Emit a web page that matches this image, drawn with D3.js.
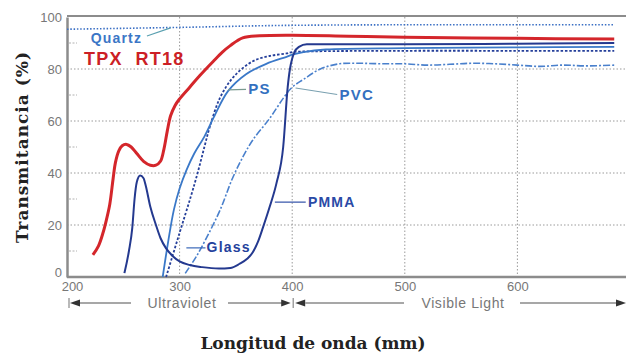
<!DOCTYPE html>
<html><head><meta charset="utf-8">
<script src="https://cdn.jsdelivr.net/npm/d3@7/dist/d3.min.js"></script>
<style>body{margin:0;background:#fff;}svg{display:block}</style>
</head><body>
<script>
// ---- data ----
const wavelengthTicks = [200, 300, 400, 500, 600];
const percentTicks = [0, 20, 40, 60, 80, 100];
const minorPercentTicks = [10, 30, 50, 70, 90];

const tpxNm = [223,228,232,235,238,241,243,246,249,253,257,262,268,274,279,283,286,289,292,296,300,309,318,330,338,345,356,371,400,450,500,600,686];
const tpxT  = [8.5,12,17,22,28,38,44,48.5,50.5,51,50,47.5,44.5,43,43,44.5,49,56,62,66,68.5,73,77.5,83,86.5,89,92,92.8,93,92.6,92.2,91.8,91.5];

const pmmaNm = [251,255,258,260,262,265,268,270,274,279,283,288,294,300,309,320,335,345,353,360,365,370,374,380,386,392,396,398,400,402,406,413,450,500,600,686];
const pmmaT  = [1.5,10,19,30,36.5,39,38,35,27,20,15,11,8,6,4.6,3.8,3.3,3.5,5,7,9.5,14,19,27,36,50,73,80,84,86.5,88.5,89.5,89.5,89.5,89.7,90];

const psNm = [285,290,295,300,306,313,322,331,343,359,377,395,400,410,430,500,600,686];
const psT  = [0,14,26,34,41,47.5,54,62,71.5,78,82,84.7,85.5,86.5,87.5,88,88.3,88.5];

const glassNm = [288,300,310,316,322,327,336,348,365,380,395,400,420,500,600,686];
const glassT  = [0,17,31,40,50,58,69,77,83,85,86,86.5,86.8,87,87,87];

const pvcNm = [305,315,325,336,347,356,365,380,392,400,410,425,442,460,480,500,520,540,560,580,600,620,640,660,686];
const pvcT  = [1.4,8,16,25.8,38,46,52.7,61,68.7,73,76,80,82,82.2,82,82,81.5,81.8,82.2,82,81.5,81,81.5,81.2,81.5];

const quartzNm = [200,300,400,500,600,686];
const quartzT  = [95.3,96,96.8,97,97,97];

// ---- layout ----
const W = 626, H = 354;
const svg = d3.select("body").append("svg").attr("width", W).attr("height", H);
const x = d3.scaleLinear().domain([200, 700]).range([67, 630]);
const y = d3.scaleLinear().domain([0, 100]).range([277, 17]);

// grid
const grid = svg.append("g");
grid.selectAll(".hg").data(percentTicks.filter(d => d > 0 && d < 100)).join("line")
  .attr("x1", x(200)).attr("x2", W).attr("y1", d => y(d)).attr("y2", d => y(d))
  .attr("stroke", "#9a9a9a").attr("stroke-width", 1).attr("stroke-dasharray", "1.5,2");
grid.selectAll(".vg").data(wavelengthTicks.filter(d => d > 200)).join("line")
  .attr("x1", d => x(d)).attr("x2", d => x(d)).attr("y1", y(100)).attr("y2", y(0))
  .attr("stroke", "#9a9a9a").attr("stroke-width", 1).attr("stroke-dasharray", "1.5,2");
grid.selectAll(".mt").data(minorPercentTicks).join("line")
  .attr("x1", x(200) + 2).attr("x2", x(200) + 10).attr("y1", d => y(d)).attr("y2", d => y(d))
  .attr("stroke", "#b0b0b0").attr("stroke-width", 1).attr("stroke-dasharray", "2,1.5");

// frame / axes
svg.append("line").attr("x1", x(200)).attr("x2", W).attr("y1", y(100) - 1).attr("y2", y(100) - 1)
  .attr("stroke", "#8c8c8c").attr("stroke-width", 2);
const yAxis = svg.append("g").attr("transform", `translate(${x(200)},0)`)
  .call(d3.axisLeft(y).tickValues(percentTicks).tickSize(0).tickPadding(5));
yAxis.select(".domain").attr("stroke", "#8c8c8c").attr("stroke-width", 2.5);
yAxis.selectAll("text").attr("font-family", "Liberation Sans, Arial, sans-serif").attr("font-size", 13).attr("fill", "#777");
yAxis.selectAll(".tick").filter(d => d === 0).select("text").attr("dy", "-0.05em");
const xAxis = svg.append("g").attr("transform", `translate(0,${y(0)})`)
  .call(d3.axisBottom(x).tickValues(wavelengthTicks).tickSize(0).tickPadding(5));
xAxis.select(".domain").attr("stroke", "#8c8c8c").attr("stroke-width", 2.5).attr("d", `M${x(200)},0H${W}`);
xAxis.selectAll("text").attr("font-family", "Liberation Sans, Arial, sans-serif").attr("font-size", 13).attr("fill", "#777");
xAxis.selectAll(".tick").filter(d => d === 200).select("text").attr("dx", "5");

// curves
const lineMono = d3.line().x(d => x(d[0])).y(d => y(d[1])).curve(d3.curveMonotoneX);
const lineSmooth = d3.line().x(d => x(d[0])).y(d => y(d[1])).curve(d3.curveCatmullRom.alpha(0.5));
const zip = (a, b) => a.map((v, i) => [v, b[i]]);
const series = [
  {nm: quartzNm, t: quartzT, color: "#3a6fc4", w: 1.6, dash: "1.5,1.8", smooth: false},
  {nm: pvcNm, t: pvcT, color: "#4a80cc", w: 1.6, dash: "7,2,2,2", smooth: true},
  {nm: glassNm, t: glassT, color: "#253f9a", w: 1.8, dash: "2.5,1.8", smooth: true},
  {nm: psNm, t: psT, color: "#3a78c8", w: 1.8, dash: null, smooth: true},
  {nm: pmmaNm, t: pmmaT, color: "#24398f", w: 2, dash: null, smooth: false},
  {nm: tpxNm, t: tpxT, color: "#d4262b", w: 3, dash: null, smooth: true}
];
svg.append("g").selectAll("path").data(series).join("path")
  .attr("d", s => (s.smooth ? lineSmooth : lineMono)(zip(s.nm, s.t)))
  .attr("fill", "none").attr("stroke", s => s.color).attr("stroke-width", s => s.w)
  .attr("stroke-dasharray", s => s.dash).attr("stroke-linejoin", "round");

// labels with leaders
const labels = [
  {text: "Quartz", at: [221, 92], lead: [[271, 92.7], [292, 95.8]], color: "#3b76c6", size: 14, lc: "#5aa0b0"},
  {text: "PS", at: [361, 72.3], lead: [[343, 72], [359, 72.2]], color: "#3470c0", size: 15, lc: "#7a9a90"},
  {text: "PVC", at: [442, 70], lead: [[403, 72.7], [440, 70.2]], color: "#3470c0", size: 15, lc: "#7aa0b0"},
  {text: "PMMA", at: [414, 28.8], lead: [[384.6, 28.8], [412, 28.8]], color: "#2a4aa6", size: 14, lc: "#3050a8"},
  {text: "Glass", at: [324, 11.5], lead: [[306, 11.2], [323, 11.2]], color: "#24419c", size: 14, lc: "#3a68b8"}
];
const lg = svg.append("g");
lg.selectAll("line").data(labels).join("line")
  .attr("x1", d => x(d.lead[0][0])).attr("y1", d => y(d.lead[0][1]))
  .attr("x2", d => x(d.lead[1][0])).attr("y2", d => y(d.lead[1][1]))
  .attr("stroke", d => d.lc).attr("stroke-width", 1.2);
lg.selectAll("text").data(labels).join("text")
  .attr("x", d => x(d.at[0])).attr("y", d => y(d.at[1])).attr("dy", "0.36em")
  .attr("font-family", "Liberation Sans, Arial, sans-serif").attr("font-weight", "bold")
  .attr("font-size", d => d.size).attr("letter-spacing", "1.2px").attr("fill", d => d.color)
  .text(d => d.text);
svg.append("text").attr("x", x(215)).attr("y", y(84)).attr("dy", "0.36em")
  .attr("font-family", "Liberation Sans, Arial, sans-serif").attr("font-weight", "bold")
  .attr("font-size", 18).attr("letter-spacing", "1.3px").attr("fill", "#cc1f26")
  .style("white-space", "pre").text("TPX  RT18");

// region arrows
const ay = 303;
const ag = svg.append("g").attr("stroke", "#8a8a8a").attr("fill", "#333");
const x200 = x(200), x400 = x(400);
ag.append("line").attr("x1", x200 + 2).attr("x2", x200 + 2).attr("y1", ay - 5).attr("y2", ay + 5).attr("stroke-width", 1.2);
ag.append("path").attr("d", `M${x200 + 3},${ay}L${x200 + 13},${ay - 3.5}L${x200 + 13},${ay + 3.5}Z`).attr("stroke", "none");
ag.append("line").attr("x1", x200 + 13).attr("x2", 131).attr("y1", ay).attr("y2", ay).attr("stroke-width", 1.5);
ag.append("line").attr("x1", 228).attr("x2", x400 - 10).attr("y1", ay).attr("y2", ay).attr("stroke-width", 1.5);
ag.append("path").attr("d", `M${x400 - 1.5},${ay}L${x400 - 11},${ay - 3.5}L${x400 - 11},${ay + 3.5}Z`).attr("stroke", "none");
ag.append("line").attr("x1", x400 + 1).attr("x2", x400 + 1).attr("y1", ay - 5).attr("y2", ay + 5).attr("stroke-width", 1.2);
ag.append("path").attr("d", `M${x400 + 3},${ay}L${x400 + 13},${ay - 3.5}L${x400 + 13},${ay + 3.5}Z`).attr("stroke", "none");
ag.append("line").attr("x1", x400 + 13).attr("x2", 404).attr("y1", ay).attr("y2", ay).attr("stroke-width", 1.5);
ag.append("line").attr("x1", 520).attr("x2", 616).attr("y1", ay).attr("y2", ay).attr("stroke-width", 1.5);
ag.append("path").attr("d", `M${626},${ay}L${616},${ay - 3.5}L${616},${ay + 3.5}Z`).attr("stroke", "none");
svg.append("text").attr("x", 182).attr("y", ay + 5).attr("text-anchor", "middle")
  .attr("font-family", "Liberation Sans, Arial, sans-serif").attr("font-size", 14).attr("fill", "#777")
  .attr("letter-spacing", "0.6px").text("Ultraviolet");
svg.append("text").attr("x", 463).attr("y", ay + 5).attr("text-anchor", "middle")
  .attr("font-family", "Liberation Sans, Arial, sans-serif").attr("font-size", 14).attr("fill", "#777")
  .attr("letter-spacing", "0.6px").text("Visible Light");

// axis titles
svg.append("text").attr("transform", "translate(28,147) rotate(-90)").attr("text-anchor", "middle")
  .attr("font-family", "DejaVu Serif, serif").attr("font-weight", "bold").attr("font-size", 17)
  .attr("letter-spacing", "1px").attr("fill", "#222").text("Transmitancia (%)");
svg.append("text").attr("x", 313).attr("y", 349).attr("text-anchor", "middle")
  .attr("font-family", "DejaVu Serif, serif").attr("font-weight", "bold").attr("font-size", 17)
  .attr("fill", "#222").text("Longitud de onda (mm)");
</script>
</body></html>
